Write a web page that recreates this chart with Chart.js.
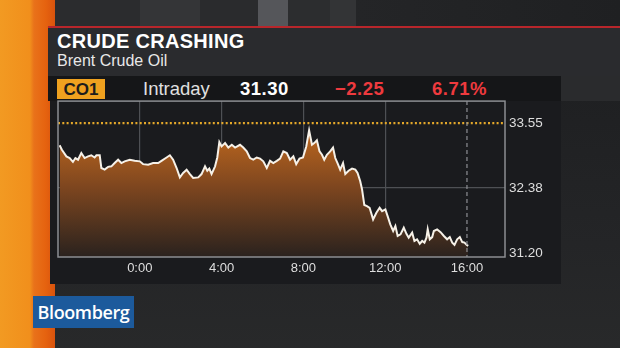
<!DOCTYPE html>
<html>
<head>
<meta charset="utf-8">
<script src="https://cdn.jsdelivr.net/npm/chart.js@4.4.1/dist/chart.umd.min.js"></script>
<style>
  html, body { margin: 0; padding: 0; }
  body { width: 620px; height: 348px; overflow: hidden; position: relative;
         background: linear-gradient(180deg, #1c1d1f 0%, #242527 70%, #28292a 100%);
         font-family: "Liberation Sans", Arial, sans-serif; }
  .abs { position: absolute; }
  #topband { left: 0; top: 0; width: 620px; height: 27px;
    background: linear-gradient(90deg, #2b2c2e 0px, #2b2c2e 140px, #343537 140px, #343537 200px, #2a2b2d 200px, #2a2b2d 258px,
      #55565a 258px, #55565a 288px, #2c2d2f 288px, #2c2d2f 330px, #333436 330px, #333436 356px, #242527 356px, #1f2022 620px); }
  #strip { left: 0; top: 0; width: 55px; height: 348px;
    background: linear-gradient(90deg, #f29a22 0px, #f18f1c 30px, #e9721a 34px, #e5620f 46px, #d9530d 55px); }
  #redline { left: 48px; top: 26px; width: 572px; height: 2px; background: #b8262b; }
  #titlepanel { left: 48px; top: 28px; width: 572px; height: 48px; background: #2a2b2e; }
  #row { left: 48px; top: 76px; width: 513px; height: 25px; background: #151618; }
  #rowright { left: 561px; top: 76px; width: 59px; height: 25px; background: #2a2b2d; }
  #panel { left: 50px; top: 101px; width: 511px; height: 183px; background: #1a1b1e; }
  #title { left: 57px; top: 30px; color: #fff; font-weight: bold; font-size: 20px; letter-spacing: 0.3px; }
  #sub { left: 57px; top: 52px; color: #e8e8e8; font-size: 16px; }
  #code { left: 57px; top: 79px; width: 48px; height: 20px; background: #efa11f; color: #1c1c1c;
          font-weight: bold; font-size: 17px; line-height: 21px; text-align: center; }
  .hdr { top: 77px; font-size: 18.5px; line-height: 24px; }
  #intr { left: 143px; color: #e0e0e0; }
  #last { left: 240px; color: #fff; font-weight: bold; letter-spacing: 0.5px; }
  #chg { left: 335px; color: #ee3a3e; font-weight: bold; letter-spacing: 0.5px; }
  #pct { left: 432px; color: #ee3a3e; font-weight: bold; letter-spacing: 0.5px; }
  #logo { left: 33px; top: 296px; width: 101px; height: 32px; background: #1c5a9c; color: #fff;
          font-family: "Open Sans", "Liberation Sans", sans-serif; font-weight: 600;
          font-size: 18px; line-height: 32px; text-align: center; letter-spacing: -0.4px; }
  #wrap { left: 50px; top: 89px; width: 520px; height: 196px; }
</style>
</head>
<body>
<div id="topband" class="abs"></div>
<div id="strip" class="abs"></div>
<div id="redline" class="abs"></div>
<div id="titlepanel" class="abs"></div>
<div id="row" class="abs"></div>
<div id="rowright" class="abs"></div>
<div id="panel" class="abs"></div>
<div id="title" class="abs">CRUDE CRASHING</div>
<div id="sub" class="abs">Brent Crude Oil</div>
<div id="code" class="abs">CO1</div>
<div id="intr" class="abs hdr">Intraday</div>
<div id="last" class="abs hdr">31.30</div>
<div id="chg" class="abs hdr">−2.25</div>
<div id="pct" class="abs hdr">6.71%</div>
<div id="logo" class="abs">Bloomberg</div>
<div id="wrap" class="abs"><canvas id="chart" width="520" height="196"></canvas></div>

<script>
// hours relative to midnight (negative = previous evening)
const hours = [
  -3.92, -3.81, -3.59, -3.43, -3.27, -3.15, -3.02, -2.86, -2.70, -2.53, -2.37, -2.21, -2.12, -1.96,
  -1.88, -1.72, -1.55, -1.39, -1.23, -1.06, -0.90, -0.74, -0.49, -0.25, 0.00, 0.16, 0.41, 0.65,
  0.90, 1.06, 1.31, 1.47, 1.63, 1.80, 1.96, 2.12, 2.29, 2.45, 2.61, 2.86, 3.02, 3.19, 3.30, 3.40,
  3.51, 3.68, 3.79, 3.89, 4.00, 4.17, 4.33, 4.50, 4.66, 4.90, 5.06, 5.23, 5.39, 5.55, 5.72, 5.88,
  6.04, 6.21, 6.37, 6.53, 6.70, 6.86, 7.02, 7.19, 7.35, 7.51, 7.65, 7.81, 7.98, 8.14, 8.28, 8.42,
  8.53, 8.66, 8.79, 8.91, 9.02, 9.15, 9.31, 9.45, 9.56, 9.67, 9.80, 9.94, 10.05, 10.21, 10.38,
  10.54, 10.65, 10.78, 10.87, 10.98, 11.11, 11.24, 11.41, 11.57, 11.73, 11.85, 12.01, 12.12,
  12.25, 12.39, 12.50, 12.61, 12.75, 12.91, 13.04, 13.15, 13.32, 13.43, 13.56, 13.69, 13.81,
  13.92, 14.02, 14.08, 14.18, 14.30, 14.38, 14.54, 14.71, 14.87, 15.03, 15.16, 15.28, 15.39,
  15.52, 15.65, 15.77, 15.88, 15.98, 16.06
];
const prices = [
  33.15, 33.07, 32.95, 32.92, 32.85, 32.92, 32.89, 33.01, 32.92, 32.95, 32.97, 32.93, 32.97, 32.97,
  32.74, 32.71, 32.76, 32.77, 32.83, 32.89, 32.83, 32.86, 32.89, 32.87, 32.86, 32.81, 32.80, 32.83,
  32.83, 32.87, 32.93, 32.97, 32.89, 32.74, 32.57, 32.65, 32.71, 32.63, 32.56, 32.57, 32.63, 32.77, 32.69, 32.73,
  32.63, 32.77, 32.93, 33.21, 33.13, 33.19, 33.11, 33.16, 33.11, 33.16, 33.11, 33.04, 32.92, 32.89, 32.93, 32.91,
  32.86, 32.74, 32.87, 32.83, 32.87, 32.91, 33.04, 33.01, 32.89, 32.95, 32.81, 32.91, 32.93, 33.13, 33.42, 33.16,
  33.19, 33.24, 33.04, 32.98, 32.89, 32.98, 33.04, 33.11, 32.92, 32.83, 32.71, 32.83, 32.63, 32.69, 32.73,
  32.71, 32.65, 32.50, 32.35, 32.07, 32.05, 32.02, 31.81, 31.93, 32.02, 31.96, 31.99, 31.87,
  31.72, 31.60, 31.69, 31.51, 31.54, 31.66, 31.55, 31.48, 31.57, 31.42, 31.45, 31.37, 31.42,
  31.39, 31.48, 31.63, 31.45, 31.49, 31.60, 31.63, 31.58, 31.51, 31.45, 31.49, 31.39, 31.35,
  31.45, 31.49, 31.40, 31.39, 31.35, 31.33
];
const prevClose = 33.55;
const xTicks = [0, 4, 8, 12, 16];
const xLabels = ["0:00", "4:00", "8:00", "12:00", "16:00"];
const yTicks = [31.20, 32.38, 33.55];
const nowHour = 16;

const X_MIN = -4, X_MAX = 17.86;

const frame = {
  id: "frame",
  afterDatasetsDraw(chart) {
    const { ctx, chartArea: a, scales } = chart;
    const x = scales.x.getPixelForValue(nowHour);
    ctx.save();
    ctx.strokeStyle = "#8d8f93";
    ctx.lineWidth = 1.2;
    ctx.setLineDash([4, 3]);
    ctx.beginPath();
    ctx.moveTo(x, a.top);
    ctx.lineTo(x, a.bottom);
    ctx.stroke();
    ctx.setLineDash([]);
    ctx.strokeStyle = "#8c8e92";
    ctx.lineWidth = 1.5;
    ctx.strokeRect(a.left, a.top, a.right - a.left, a.bottom - a.top);
    ctx.restore();
  },
};

new Chart(document.getElementById("chart"), {
  type: "line",
  data: {
    datasets: [
      {
        data: hours.map((h, i) => ({ x: h, y: prices[i] })),
        borderColor: "#f6f1e8",
        borderWidth: 2,
        pointRadius: 0,
        tension: 0,
        fill: "start",
        backgroundColor: (c) => {
          const a = c.chart.chartArea;
          if (!a) return "#8a4a1c";
          const g = c.chart.ctx.createLinearGradient(0, a.top + 25, 0, a.bottom);
          g.addColorStop(0, "#c26a1e");
          g.addColorStop(0.45, "#80471f");
          g.addColorStop(1, "#2a221e");
          return g;
        },
      },
      {
        data: [{ x: X_MIN, y: prevClose }, { x: X_MAX, y: prevClose }],
        borderColor: "#e4a82a",
        borderWidth: 2.2,
        borderDash: [2, 2.3],
        pointRadius: 0,
        fill: false,
      },
    ],
  },
  options: {
    responsive: false,
    animation: false,
    layout: { padding: { left: 8, top: 6, right: 0, bottom: 0 } },
    plugins: { legend: { display: false }, tooltip: { enabled: false } },
    scales: {
      x: {
        type: "linear",
        min: X_MIN,
        max: X_MAX,
        afterBuildTicks: (s) => { s.ticks = xTicks.map((v) => ({ value: v })); },
        afterFit: (s) => { s.height = 28; },
        ticks: {
          color: "#dedede",
          font: { family: "Liberation Sans", size: 13 },
          padding: 4,
          maxRotation: 0,
          callback: (v) => xLabels[xTicks.indexOf(v)] ?? "",
        },
        grid: {
          drawTicks: false,
          lineWidth: 1.2,
          color: (c) => (c.tick && c.tick.value === nowHour ? "rgba(0,0,0,0)" : "#4e5054"),
        },
        border: { display: false },
      },
      y: {
        position: "right",
        min: 31.13,
        max: 33.95,
        afterBuildTicks: (s) => { s.ticks = yTicks.map((v) => ({ value: v })); },
        afterFit: (s) => { s.width = 65; },
        ticks: {
          color: "#dedede",
          font: { family: "Liberation Sans", size: 13.5 },
          padding: 4,
          callback: (v) => v.toFixed(2),
        },
        grid: {
          drawTicks: false,
          lineWidth: 1.2,
          color: (c) => (c.tick && c.tick.value === 32.38 ? "#4e5054" : "rgba(0,0,0,0)"),
        },
        border: { display: false },
      },
    },
  },
  plugins: [frame],
});
</script>
</body>
</html>
